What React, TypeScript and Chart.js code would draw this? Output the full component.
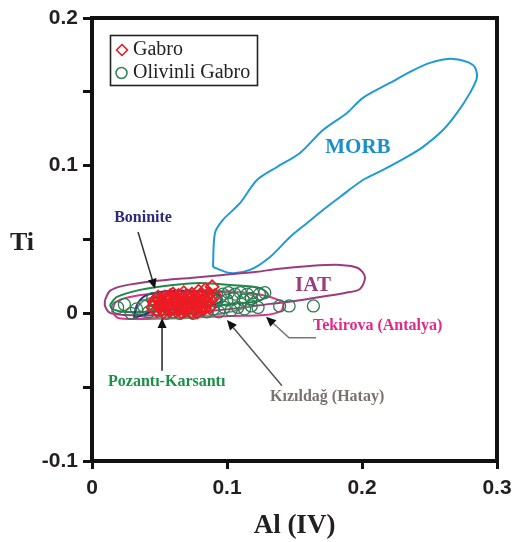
import { useEffect, useRef } from "react";
import { Chart, registerables } from "chart.js";

Chart.register(...registerables);

// Gabro samples: Al(IV) vs Ti (apfu)
const gabroAl = [
  0.045, 0.047, 0.048, 0.05, 0.05, 0.052, 0.053, 0.054, 0.055, 0.056, 0.057, 0.058, 0.059, 0.06, 0.06,
  0.061, 0.062, 0.063, 0.063, 0.064, 0.065, 0.066, 0.067, 0.068, 0.068, 0.069, 0.07, 0.071, 0.072, 0.073,
  0.074, 0.075, 0.075, 0.076, 0.077, 0.078, 0.079, 0.08, 0.081, 0.082, 0.083, 0.084, 0.085, 0.086, 0.088,
  0.089, 0.091, 0.049, 0.053, 0.058, 0.062, 0.066, 0.07, 0.074, 0.078, 0.081, 0.071, 0.064, 0.057, 0.087,
  0.051, 0.054, 0.059, 0.061, 0.065, 0.067, 0.069, 0.072, 0.076, 0.079, 0.083, 0.046, 0.056, 0.073, 0.085,
];
const gabroTi = [
  0.004, 0.007, 0.002, 0.005, 0.009, 0.003, 0.007, 0.011, 0.004, 0.008, 0.002, 0.006, 0.01, 0.004, 0.013,
  0.007, 0.002, 0.005, 0.009, 0.012, 0.003, 0.007, 0.01, 0.005, 0.014, 0.002, 0.008, 0.011, 0.004, 0.007,
  0.013, 0.003, 0.009, 0.006, 0.011, 0.004, 0.015, 0.008, 0.012, 0.005, 0.01, 0.016, 0.007, 0.013, 0.009,
  0.018, 0.012, 0.011, 0.001, 0.012, 0.01, 0.001, 0.012, 0.001, 0.001, 0.003, 0.006, 0.008, 0.005, 0.004,
  0.007, 0.005, 0.003, 0.009, 0.005, 0.004, 0.006, 0.009, 0.002, 0.006, 0.003, 0.008, 0.010, 0.010, 0.011,
];

// Olivinli Gabro samples
const olivinAl = [
  0.019, 0.024, 0.029, 0.033, 0.038, 0.042, 0.046, 0.05, 0.055, 0.06, 0.065, 0.07, 0.075, 0.08, 0.085,
  0.09, 0.094, 0.098, 0.103, 0.108, 0.113, 0.118, 0.123, 0.092, 0.097, 0.101, 0.106, 0.11, 0.115, 0.119,
  0.124, 0.128, 0.095, 0.1, 0.105, 0.112, 0.118, 0.139, 0.146, 0.164, 0.088, 0.058, 0.072, 0.045,
];
const olivinTi = [
  0.004, 0.006, 0.0, 0.003, 0.005, 0.001, 0.006, 0.002, 0.0, 0.001, 0.0, 0.002, 0.0, 0.002, 0.001,
  0.003, 0.001, 0.004, 0.002, 0.004, 0.003, 0.005, 0.004, 0.008, 0.013, 0.014, 0.013, 0.014, 0.013, 0.014,
  0.013, 0.014, 0.011, 0.009, 0.01, 0.009, 0.01, 0.005, 0.005, 0.005, 0.011, 0.009, 0.012, 0.01,
];

// Discrimination fields (outline vertices)
const morbAl = [
  0.0896, 0.0911, 0.097, 0.1096, 0.1222, 0.137, 0.1541, 0.1711, 0.1889, 0.2007, 0.2207, 0.2356, 0.2504,
  0.2674, 0.2822, 0.2852, 0.28, 0.2704, 0.26, 0.2452, 0.2333, 0.2156, 0.2007, 0.1837, 0.1711, 0.1593,
  0.1467, 0.1319, 0.117, 0.1022, 0.0896,
];
const morbTi = [
  0.0314, 0.0544, 0.0633, 0.0746, 0.0903, 0.0991, 0.1086, 0.1241, 0.1357, 0.1459, 0.156, 0.1635, 0.1696,
  0.1723, 0.1682, 0.1601, 0.1493, 0.1357, 0.1241, 0.1127, 0.1059, 0.0971, 0.0903, 0.0788, 0.07, 0.0612,
  0.0517, 0.0382, 0.0294, 0.0273, 0.0314,
];
const iatAl = [
  0.0096, 0.0133, 0.023, 0.0481, 0.0726, 0.097, 0.1222, 0.137, 0.1615, 0.1837, 0.197, 0.2022, 0.1985,
  0.1874, 0.1689, 0.1504, 0.1319, 0.1096, 0.08, 0.0504, 0.0244, 0.0133, 0.0096, 0.0096,
];
const iatTi = [
  0.0091, 0.0152, 0.0186, 0.022, 0.024, 0.026, 0.0281, 0.0301, 0.0321, 0.0328, 0.0307, 0.0246, 0.0165,
  0.0138, 0.0111, 0.0084, 0.0064, 0.0037, 0.0009, -0.0011, -0.0011, 0.0003, 0.005, 0.0091,
];
const tekirovaAl = [
  0.0148, 0.0178, 0.0319, 0.0578, 0.0874, 0.117, 0.1319, 0.1415, 0.14, 0.1281, 0.1022, 0.0652, 0.0356,
  0.0193, 0.0148,
];
const tekirovaTi = [
  0.0009, 0.0077, 0.0118, 0.0138, 0.0145, 0.0138, 0.0111, 0.007, 0.0016, -0.0011, -0.0018, -0.0031,
  -0.0038, -0.0031, 0.0009,
];
const pozantiAl = [
  0.0133, 0.0185, 0.0356, 0.06, 0.08, 0.1022, 0.1244, 0.1304, 0.123, 0.1022, 0.08, 0.0504, 0.0244, 0.0148,
  0.0133,
];
const pozantiTi = [
  0.0057, 0.0111, 0.0159, 0.0192, 0.0206, 0.0192, 0.0172, 0.0125, 0.0084, 0.0064, 0.0037, 0.0016, 0.0009,
  0.003, 0.0057,
];
const kizildagAl = [
  0.0319, 0.0393, 0.0578, 0.0874, 0.1133, 0.123, 0.1133, 0.0948, 0.0726, 0.0504, 0.0356, 0.0319,
];
const kizildagTi = [
  0.0023, 0.0091, 0.0131, 0.0152, 0.0138, 0.0091, 0.0037, -0.0004, -0.0031, -0.0031, -0.0018, 0.0023,
];
const boniniteAl = [
  0.0311, 0.0333, 0.0393, 0.0504, 0.0726, 0.0911, 0.0963, 0.0874, 0.0652, 0.0467, 0.0356, 0.0311,
];
const boniniteTi = [
  -0.0031, 0.0057, 0.0118, 0.0145, 0.0152, 0.0138, 0.0091, 0.005, 0.003, 0.0016, -0.0018, -0.0031,
];

const SERIF = '"Liberation Serif", "Times New Roman", serif';
const SANS = '"Liberation Sans", Arial, sans-serif';

const toPoints = (xs: number[], ys: number[]) => xs.map((x, i) => ({ x, y: ys[i] }));

// Field names placed in data coordinates
const fieldLabels = [
  { text: "MORB", al: 0.197, ti: 0.112, color: "#1b8fca", size: 21, align: "center" },
  { text: "IAT", al: 0.1637, ti: 0.0186, color: "#9a3c7e", size: 21, align: "center" },
  { text: "Boninite", al: 0.0378, ti: 0.0646, color: "#2e2b7a", size: 16, align: "center" },
  { text: "Tekirova (Antalya)", al: 0.1637, ti: -0.0084, color: "#e0288a", size: 16, align: "left" },
  { text: "Pozantı-Karsantı", al: 0.0119, ti: -0.0463, color: "#1a9048", size: 16, align: "left" },
  { text: "Kızıldağ (Hatay)", al: 0.1319, ti: -0.0565, color: "#7a726e", size: 16, align: "left" },
];

// Leader arrows from labels to fields
const pointers = [
  { line: "#333", path: [[0.0341, 0.0551], [0.0467, 0.0166]] },
  { line: "#222", path: [[0.0519, -0.0389], [0.0519, -0.0031]] },
  { line: "#555", path: [[0.1407, -0.0491], [0.1, -0.0045]] },
  { line: "#777", path: [[0.1659, -0.0166], [0.1459, -0.0166], [0.1289, -0.0023]] },
];

const overlay = {
  id: "overlay",
  afterDraw(chart: any) {
    const { ctx, chartArea: a, scales } = chart;
    const px = (v: number) => scales.x.getPixelForValue(v);
    const py = (v: number) => scales.y.getPixelForValue(v);
    ctx.save();

    // arrows
    for (const p of pointers) {
      const pts = p.path.map(([x, y]) => [px(x), py(y)]);
      const [ex, ey] = pts[pts.length - 1];
      const [sx, sy] = pts[pts.length - 2];
      const ang = Math.atan2(ey - sy, ex - sx);
      const headLen = 10;
      const bx = ex - Math.cos(ang) * headLen;
      const by = ey - Math.sin(ang) * headLen;
      ctx.strokeStyle = p.line;
      ctx.lineWidth = 1.5;
      ctx.beginPath();
      ctx.moveTo(pts[0][0], pts[0][1]);
      for (let i = 1; i < pts.length - 1; i++) ctx.lineTo(pts[i][0], pts[i][1]);
      ctx.lineTo(bx, by);
      ctx.stroke();
      ctx.fillStyle = "#111";
      ctx.beginPath();
      ctx.moveTo(ex, ey);
      ctx.lineTo(bx + Math.sin(ang) * 4.5, by - Math.cos(ang) * 4.5);
      ctx.lineTo(bx - Math.sin(ang) * 4.5, by + Math.cos(ang) * 4.5);
      ctx.closePath();
      ctx.fill();
    }

    // field names
    ctx.textBaseline = "middle";
    for (const l of fieldLabels) {
      ctx.font = `bold ${l.size}px ${SERIF}`;
      ctx.fillStyle = l.color;
      ctx.textAlign = l.align as CanvasTextAlign;
      ctx.fillText(l.text, px(l.al), py(l.ti));
    }

    // legend
    const lx = a.left + 18;
    const ly = a.top + 17;
    ctx.strokeStyle = "#222";
    ctx.lineWidth = 1.6;
    ctx.strokeRect(lx + 0.5, ly + 0.5, 147, 50);
    ctx.strokeStyle = "#e8141c";
    ctx.lineWidth = 1.5;
    ctx.beginPath();
    const dx = lx + 12, dy = ly + 15, r = 5.5;
    ctx.moveTo(dx, dy - r);
    ctx.lineTo(dx + r, dy);
    ctx.lineTo(dx, dy + r);
    ctx.lineTo(dx - r, dy);
    ctx.closePath();
    ctx.stroke();
    ctx.strokeStyle = "#2d7f55";
    ctx.beginPath();
    ctx.arc(lx + 11.5, ly + 38, 5.5, 0, Math.PI * 2);
    ctx.stroke();
    ctx.fillStyle = "#222";
    ctx.textAlign = "left";
    ctx.font = `20px ${SERIF}`;
    ctx.fillText("Gabro", lx + 23, ly + 15);
    ctx.fillText("Olivinli Gabro", lx + 23, ly + 38);

    // frame
    ctx.strokeStyle = "#111";
    ctx.lineWidth = 4;
    ctx.strokeRect(a.left, a.top, a.right - a.left, a.bottom - a.top);

    // axis titles
    ctx.fillStyle = "#231f20";
    ctx.textAlign = "center";
    ctx.font = `bold 26px ${SERIF}`;
    ctx.fillText("Ti", 22, (a.top + a.bottom) / 2 + 4);
    ctx.font = `bold 27px ${SERIF}`;
    ctx.fillText("Al (IV)", (a.left + a.right) / 2, 526);

    ctx.restore();
  },
};

export default function App() {
  const ref = useRef<HTMLCanvasElement | null>(null);

  useEffect(() => {
    if (!ref.current) return;
    const outline = (xs: number[], ys: number[], color: string, order: number) => ({
      data: toPoints(xs, ys),
      showLine: true,
      borderColor: color,
      borderWidth: 2,
      pointRadius: 0,
      tension: 0.3,
      fill: false,
      order,
    });
    const chart = new Chart(ref.current, {
      type: "scatter",
      data: {
        datasets: [
          {
            label: "Gabro",
            data: toPoints(gabroAl, gabroTi),
            pointStyle: "rectRot",
            pointRadius: 6.5,
            borderColor: "#ec1c24",
            backgroundColor: "rgba(0,0,0,0)",
            pointBorderWidth: 1.8,
            order: 0,
          },
          {
            label: "Olivinli Gabro",
            data: toPoints(olivinAl, olivinTi),
            pointStyle: "circle",
            pointRadius: 6,
            borderColor: "#2a7d50",
            backgroundColor: "rgba(0,0,0,0)",
            pointBorderWidth: 1.3,
            order: 1,
          },
          outline(boniniteAl, boniniteTi, "#2d2f86", 2) as any,
          outline(kizildagAl, kizildagTi, "#8a8580", 3) as any,
          outline(pozantiAl, pozantiTi, "#1d8a4a", 4) as any,
          outline(tekirovaAl, tekirovaTi, "#d8358c", 5) as any,
          outline(iatAl, iatTi, "#9a3c7e", 6) as any,
          outline(morbAl, morbTi, "#1f9ad6", 7) as any,
        ],
      },
      options: {
        responsive: false,
        animation: false,
        events: [],
        layout: { padding: { left: 0, top: 18, right: 22, bottom: 0 } },
        plugins: { legend: { display: false }, tooltip: { enabled: false } },
        scales: {
          x: {
            type: "linear",
            min: 0,
            max: 0.3,
            afterFit: (s: any) => {
              s.height = 81;
            },
            ticks: {
              stepSize: 0.1,
              autoSkip: false,
              padding: 7,
              color: "#231f20",
              font: { family: SANS, size: 21, weight: "bold" },
              callback: (v: any) => String(Math.round(Number(v) * 10) / 10),
            },
            grid: { drawOnChartArea: false, tickLength: 8, tickWidth: 3, tickColor: "#111" },
            border: { display: false },
          },
          y: {
            type: "linear",
            min: -0.1,
            max: 0.2,
            afterFit: (s: any) => {
              s.width = 92;
            },
            ticks: {
              stepSize: 0.05,
              autoSkip: false,
              padding: 5,
              color: "#231f20",
              font: { family: SANS, size: 21, weight: "bold" },
              callback: (v: any) => {
                const r = Math.round(Number(v) * 100);
                return r % 10 === 0 ? String(r / 100) : "";
              },
            },
            grid: { drawOnChartArea: false, tickLength: 9, tickWidth: 3, tickColor: "#111" },
            border: { display: false },
          },
        },
      },
      plugins: [overlay],
    } as any);
    return () => chart.destroy();
  }, []);

  return (
    <div style={{ position: "absolute", left: 0, top: 0, width: 519, height: 542, background: "#fff" }}>
      <canvas ref={ref} width={519} height={542} style={{ display: "block" }} />
    </div>
  );
}
